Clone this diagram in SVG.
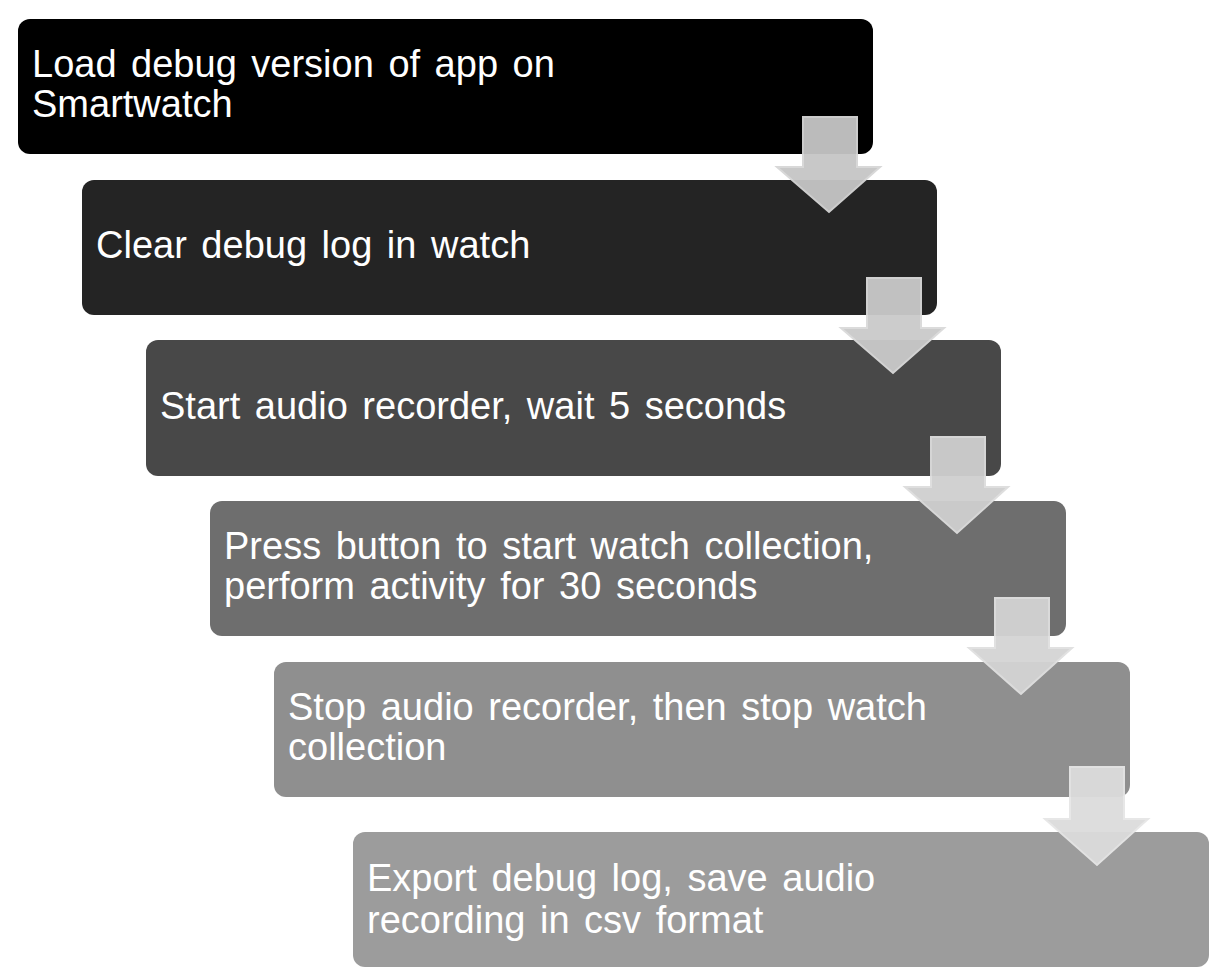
<svg xmlns="http://www.w3.org/2000/svg" width="1215" height="972" viewBox="0 0 1215 972">
<style>
.box{stroke:none}
.t{font-family:"Liberation Sans",Arial,sans-serif;font-size:38px;fill:#ffffff;word-spacing:4px}
.arr{stroke-width:2;opacity:0.95}
</style>
<rect width="1215" height="972" fill="#ffffff"/>
<g id="node1"><rect class="box" x="18" y="19" width="855" height="135" rx="12" fill="#000000"/>
<text class="t" x="32" y="77">Load debug version of app on</text><text class="t" x="32" y="117">Smartwatch</text></g>
<g id="node2"><rect class="box" x="82" y="180" width="855" height="135" rx="12" fill="#242424"/>
<text class="t" x="96" y="258">Clear debug log in watch</text></g>
<g id="node3"><rect class="box" x="146" y="340" width="855" height="136" rx="12" fill="#484848"/>
<text class="t" x="160" y="419">Start audio recorder, wait 5 seconds</text></g>
<g id="node4"><rect class="box" x="210" y="501" width="856" height="135" rx="12" fill="#6e6e6e"/>
<text class="t" x="224" y="559">Press button to start watch collection,</text><text class="t" x="224" y="599">perform activity for 30 seconds</text></g>
<g id="node5"><rect class="box" x="274" y="662" width="856" height="135" rx="12" fill="#8f8f8f"/>
<text class="t" x="288" y="720">Stop audio recorder, then stop watch</text><text class="t" x="288" y="760">collection</text></g>
<g id="node6"><rect class="box" x="353" y="832" width="856" height="135" rx="12" fill="#9c9c9c"/>
<text class="t" x="367" y="891">Export debug log, save audio</text><text class="t" x="367" y="933">recording in csv format</text></g>
<g id="connectors">
<path class="arr" fill="#c6c6c6" stroke="#d6d6d6" d="M803 117 H857 V167 H880 L829 212 L777 167 H803 Z"/>
<path class="arr" fill="#cacaca" stroke="#dadada" d="M867 278 H921 V328 H944 L893 373 L841 328 H867 Z"/>
<path class="arr" fill="#cfcfcf" stroke="#dddddd" d="M931 437 H985 V487 H1008 L957 533 L905 487 H931 Z"/>
<path class="arr" fill="#d4d4d4" stroke="#e0e0e0" d="M995 598 H1049 V648 H1072 L1021 694 L969 648 H995 Z"/>
<path class="arr" fill="#dcdcdc" stroke="#e6e6e6" d="M1070 767 H1124 V819 H1148 L1097 865 L1045 819 H1070 Z"/>
</g>
</svg>
